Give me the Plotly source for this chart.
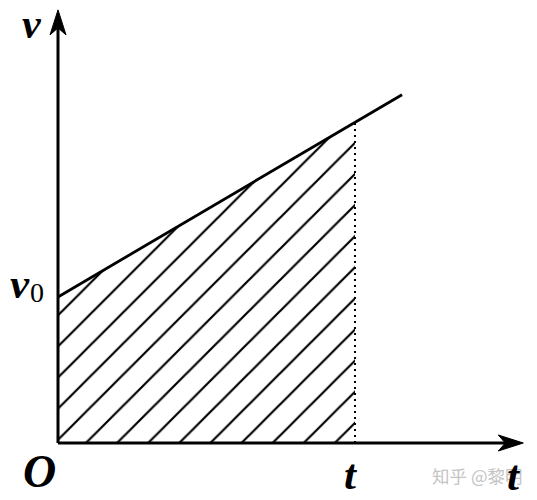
import plotly.graph_objects as go

# ---- data (arbitrary units; v-t graph of uniformly accelerated motion) ----
v0 = 1.475            # initial velocity
t_mark = 3.0          # the marked time t
accel = 0.588         # slope of v-t line
t_line_end = 3.475    # where the drawn line stops
t_axis_end = 4.70     # tip of t axis arrow
v_axis_end = 4.375    # tip of v axis arrow

time_line = [0.0, t_mark, t_line_end]
vel_line = [v0 + accel * tt for tt in time_line]

area_t = [0.0, 0.0, t_mark, t_mark, 0.0]
area_v = [0.0, v0, v0 + accel * t_mark, 0.0, 0.0]

PX = 99.0  # pixels per data unit (equal scale on both axes)
W, H = 537, 500
ORIGIN_PX = (58, 443)
x_range = [-ORIGIN_PX[0] / PX, (W - ORIGIN_PX[0]) / PX]
y_range = [-(H - ORIGIN_PX[1]) / PX, ORIGIN_PX[1] / PX]

fig = go.Figure()

# hatched area
fig.add_trace(go.Scatter(
    x=area_t, y=area_v, mode="lines", fill="toself",
    line=dict(width=0, color="rgba(0,0,0,0)"),
    fillcolor="white",
    fillpattern=dict(shape="/", size=22, solidity=0.1, fgcolor="black",
                     fgopacity=1, bgcolor="white"),
    hoverinfo="skip", showlegend=False,
))

# dotted vertical at t
fig.add_trace(go.Scatter(
    x=[t_mark, t_mark], y=[0, v0 + accel * t_mark], mode="lines",
    line=dict(color="black", width=2, dash="2px,4px"),
    hoverinfo="skip", showlegend=False,
))

# v-t line
fig.add_trace(go.Scatter(
    x=time_line, y=vel_line, mode="lines",
    line=dict(color="black", width=2.8),
    hoverinfo="skip", showlegend=False,
))

# axes lines
head_len = 25 / PX
head_half = 8 / PX
notch = 18 / PX
fig.add_trace(go.Scatter(
    x=[0, t_axis_end - notch], y=[0, 0], mode="lines",
    line=dict(color="black", width=3), hoverinfo="skip", showlegend=False))
fig.add_trace(go.Scatter(
    x=[0, 0], y=[0, v_axis_end - notch], mode="lines",
    line=dict(color="black", width=3), hoverinfo="skip", showlegend=False))

# arrowheads
X, Y = t_axis_end, v_axis_end
fig.add_shape(type="path", xref="x", yref="y",
              path=f"M{X},0 L{X-head_len},{head_half} L{X-notch},0 L{X-head_len},{-head_half} Z",
              fillcolor="black", line=dict(color="black", width=1))
fig.add_shape(type="path", xref="x", yref="y",
              path=f"M0,{Y} L{head_half},{Y-head_len} L0,{Y-notch} L{-head_half},{Y-head_len} Z",
              fillcolor="black", line=dict(color="black", width=1))

FONT = "Liberation Serif"
def label(txt, x, y, size=43, color="black", family=FONT):
    fig.add_annotation(x=x, y=y, xref="x", yref="y", text=txt, showarrow=False,
                       font=dict(family=family, size=size, color=color),
                       xanchor="center", yanchor="middle")

label("<b><i>v</i></b>", -0.263, 4.237, size=42)
label("<b><i>v</i></b>", -0.384, 1.611)
label("0", -0.212, 1.525, size=28)
label("<b><i>O</i></b>", -0.182, -0.283, size=46)
label("<b><i>t</i></b>", 2.96, -0.323)
label("知乎 @黎明", 4.23, -0.325, size=17.5, color="#c4c4c4", family="Noto Sans CJK SC")
label("<b><i>t</i></b>", 4.606, -0.33)

fig.update_xaxes(range=x_range, visible=False, showgrid=False, zeroline=False, fixedrange=True)
fig.update_yaxes(range=y_range, visible=False, showgrid=False, zeroline=False, fixedrange=True)
fig.update_layout(width=W, height=H, margin=dict(l=0, r=0, t=0, b=0),
                  paper_bgcolor="white", plot_bgcolor="white", showlegend=False)

fig.write_html("out.html", config={"displayModeBar": False},
               post_script="document.body.style.margin='0';")
